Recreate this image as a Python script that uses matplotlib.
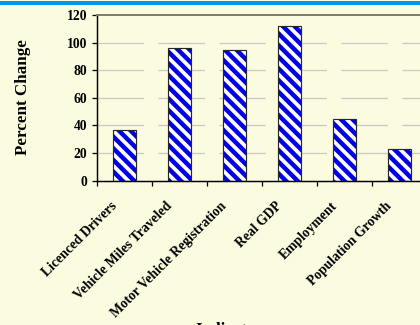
import numpy as np
import matplotlib
matplotlib.use("Agg")
from matplotlib import pyplot as plt
from matplotlib.patches import Rectangle
from matplotlib.transforms import ScaledTranslation

# percent change by indicator
indicators = ["Licenced Drivers", "Vehicle Miles Traveled", "Motor Vehicle Registration",
              "Real GDP", "Employment", "Population Growth"]
pct_change = [37, 96, 95, 112, 45, 23]
y_ticks = [0, 20, 40, 60, 80, 100, 120]

BG = "#FBFBE0"
DPI = 70

plt.rcParams["font.family"] = ["Liberation Serif", "DejaVu Serif"]
plt.rcParams["font.weight"] = "bold"
plt.rcParams["hatch.linewidth"] = 4.6
plt.rcParams["lines.scale_dashes"] = False

fig = plt.figure(figsize=(420 / DPI, 325 / DPI), dpi=DPI, facecolor=BG)
ax = fig.add_axes([97 / 420, 1 - 180.7 / 325, 330 / 420, (180.7 - 15) / 325])
ax.set_facecolor(BG)

# blue rule across the top of the slide
fig.patches.append(Rectangle((0, 1 - 4.8 / 325), 1, 3.8 / 325, transform=fig.transFigure,
                             facecolor="#0096EC", edgecolor="none", zorder=5))

x = np.arange(len(indicators))
ax.set_xlim(-0.5, len(indicators) - 0.5)
ax.set_ylim(0, 120)

# broken gridlines
for v in y_ticks[1:-1]:
    ax.axhline(v, color="#CACAC2", lw=1.3, linestyle=(0, (47.8, 14.9)), zorder=1)

# hatched bars: fill + stripes first, outline on top
ax.bar(x, pct_change, width=0.41, facecolor="white", edgecolor="#0000E6",
       linewidth=0, hatch="\\\\", zorder=2)
ax.bar(x, pct_change, width=0.41, facecolor="none", edgecolor="#262626",
       linewidth=1.2, zorder=3)

for side in ["left", "bottom"]:
    ax.spines[side].set_color("black")
    ax.spines[side].set_linewidth(1.5)
ax.spines["top"].set_color("#7C7C6E")
ax.spines["top"].set_linewidth(2.0)
ax.spines["right"].set_visible(False)

ax.set_yticks(y_ticks)
ax.tick_params(axis="y", length=5, width=1.3, pad=5, labelsize=14)
ax.set_xticks(x)
ax.set_xticks(np.arange(-0.5, len(indicators)), minor=True)
ax.tick_params(axis="x", which="major", length=0, pad=6)
ax.tick_params(axis="x", which="minor", length=5, width=1.3)
ax.set_xticklabels(indicators, rotation=45, ha="right", rotation_mode="anchor",
                   fontsize=14)
shift = ScaledTranslation(-14 / DPI, -13 / DPI, fig.dpi_scale_trans)
for lbl in ax.get_xticklabels():
    lbl.set_transform(lbl.get_transform() + shift)

fig.text(23 / 420, 1 - 97 / 325, "Percent Change", rotation=90, ha="center", va="center",
         fontsize=17.5, fontweight="bold")
fig.text(195 / 420, 1 - 321.5 / 325, "Indicator", ha="left", va="top",
         fontsize=17.5, fontweight="bold")

fig.savefig("out.png", dpi=DPI, facecolor=BG)
